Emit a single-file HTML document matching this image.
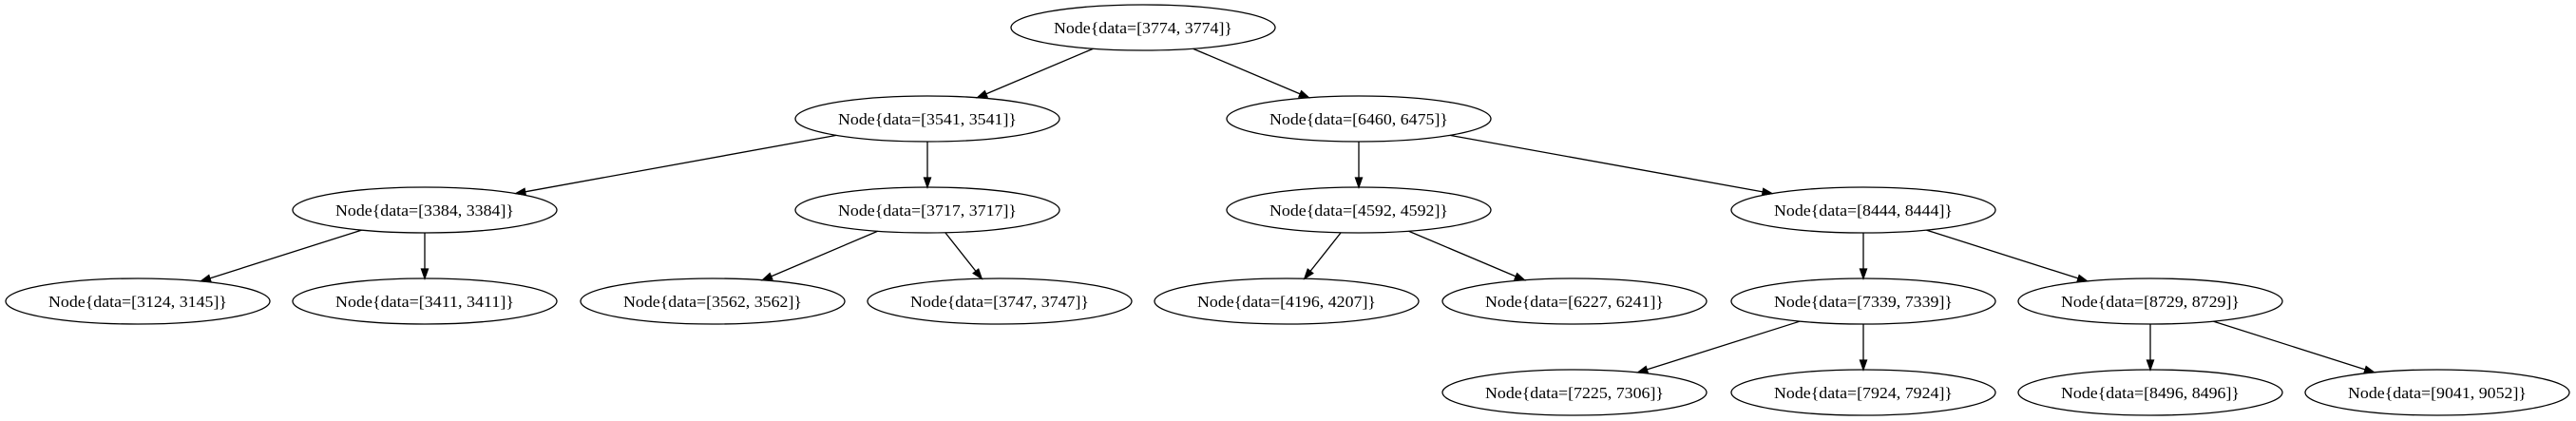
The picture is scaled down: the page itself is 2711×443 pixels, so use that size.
<!DOCTYPE html>
<html><head><meta charset="utf-8"><style>
html,body{margin:0;padding:0;background:#fff;}
svg{display:block;}
text{font-family:"Liberation Serif",serif;font-size:17px;}
</style></head><body>
<svg id="g" width="2711" height="443" viewBox="0 0 2711 443" xmlns="http://www.w3.org/2000/svg">
<g id="edges" stroke="#000" stroke-width="1.3" fill="#000"></g>
<g fill="none" stroke="#000" stroke-width="1.3">
<ellipse cx="1203" cy="29" rx="139" ry="24"/>
<ellipse cx="976" cy="125" rx="139" ry="24"/>
<ellipse cx="1430" cy="125" rx="139" ry="24"/>
<ellipse cx="447" cy="221" rx="139" ry="24"/>
<ellipse cx="976" cy="221" rx="139" ry="24"/>
<ellipse cx="1430" cy="221" rx="139" ry="24"/>
<ellipse cx="1961" cy="221" rx="139" ry="24"/>
<ellipse cx="145" cy="317" rx="139" ry="24"/>
<ellipse cx="447" cy="317" rx="139" ry="24"/>
<ellipse cx="750" cy="317" rx="139" ry="24"/>
<ellipse cx="1052" cy="317" rx="139" ry="24"/>
<ellipse cx="1354" cy="317" rx="139" ry="24"/>
<ellipse cx="1657" cy="317" rx="139" ry="24"/>
<ellipse cx="1961" cy="317" rx="139" ry="24"/>
<ellipse cx="2263" cy="317" rx="139" ry="24"/>
<ellipse cx="1657" cy="413" rx="139" ry="24"/>
<ellipse cx="1961" cy="413" rx="139" ry="24"/>
<ellipse cx="2263" cy="413" rx="139" ry="24"/>
<ellipse cx="2565" cy="413" rx="139" ry="24"/>
</g>
<g text-anchor="middle" fill="#000">
<text x="1203" y="35" textLength="188" lengthAdjust="spacingAndGlyphs">Node{data=[3774, 3774]}</text>
<text x="976" y="131" textLength="188" lengthAdjust="spacingAndGlyphs">Node{data=[3541, 3541]}</text>
<text x="1430" y="131" textLength="188" lengthAdjust="spacingAndGlyphs">Node{data=[6460, 6475]}</text>
<text x="447" y="227" textLength="188" lengthAdjust="spacingAndGlyphs">Node{data=[3384, 3384]}</text>
<text x="976" y="227" textLength="188" lengthAdjust="spacingAndGlyphs">Node{data=[3717, 3717]}</text>
<text x="1430" y="227" textLength="188" lengthAdjust="spacingAndGlyphs">Node{data=[4592, 4592]}</text>
<text x="1961" y="227" textLength="188" lengthAdjust="spacingAndGlyphs">Node{data=[8444, 8444]}</text>
<text x="145" y="323" textLength="188" lengthAdjust="spacingAndGlyphs">Node{data=[3124, 3145]}</text>
<text x="447" y="323" textLength="188" lengthAdjust="spacingAndGlyphs">Node{data=[3411, 3411]}</text>
<text x="750" y="323" textLength="188" lengthAdjust="spacingAndGlyphs">Node{data=[3562, 3562]}</text>
<text x="1052" y="323" textLength="188" lengthAdjust="spacingAndGlyphs">Node{data=[3747, 3747]}</text>
<text x="1354" y="323" textLength="188" lengthAdjust="spacingAndGlyphs">Node{data=[4196, 4207]}</text>
<text x="1657" y="323" textLength="188" lengthAdjust="spacingAndGlyphs">Node{data=[6227, 6241]}</text>
<text x="1961" y="323" textLength="188" lengthAdjust="spacingAndGlyphs">Node{data=[7339, 7339]}</text>
<text x="2263" y="323" textLength="188" lengthAdjust="spacingAndGlyphs">Node{data=[8729, 8729]}</text>
<text x="1657" y="419" textLength="188" lengthAdjust="spacingAndGlyphs">Node{data=[7225, 7306]}</text>
<text x="1961" y="419" textLength="188" lengthAdjust="spacingAndGlyphs">Node{data=[7924, 7924]}</text>
<text x="2263" y="419" textLength="188" lengthAdjust="spacingAndGlyphs">Node{data=[8496, 8496]}</text>
<text x="2565" y="419" textLength="188" lengthAdjust="spacingAndGlyphs">Node{data=[9041, 9052]}</text>
</g>
</svg>
<script>
var E=[
[1203,29,976,125],[1203,29,1430,125],
[976,125,447,221],[976,125,976,221],
[1430,125,1430,221],[1430,125,1961,221],
[447,221,145,317],[447,221,447,317],
[976,221,750,317],[976,221,1052,317],
[1430,221,1354,317],[1430,221,1657,317],
[1961,221,1961,317],[1961,221,2263,317],
[1961,317,1657,413],[1961,317,1961,413],
[2263,317,2263,413],[2263,317,2565,413]];
var rx=139,ry=24,s='';
function clip(cx,cy,dx,dy){var t=1/Math.sqrt(dx*dx/(rx*rx)+dy*dy/(ry*ry));return [cx+dx*t,cy+dy*t];}
E.forEach(function(e){
 var px=e[0],py=e[1],cx=e[2],cy=e[3];
 var a=clip(px,py,cx-px,cy-py), b=clip(cx,cy,px-cx,py-cy);
 var dx=b[0]-a[0],dy=b[1]-a[1],L=Math.sqrt(dx*dx+dy*dy),ux=dx/L,uy=dy/L;
 var bx=b[0]-ux*10,by=b[1]-uy*10;
 s+='<line x1="'+a[0]+'" y1="'+a[1]+'" x2="'+bx+'" y2="'+by+'"/>';
 s+='<polygon points="'+b[0]+','+b[1]+' '+(bx-uy*3.5)+','+(by+ux*3.5)+' '+(bx+uy*3.5)+','+(by-ux*3.5)+'"/>';
});
document.getElementById('edges').innerHTML=s;
</script>
</body></html>
